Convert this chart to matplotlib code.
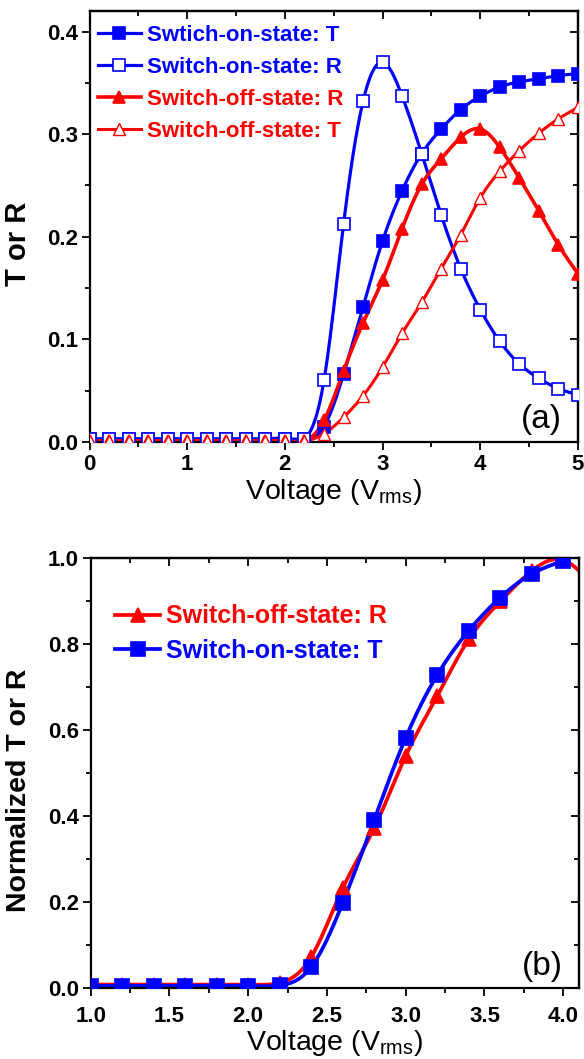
import numpy as np
import matplotlib
matplotlib.use("Agg")
import matplotlib.pyplot as plt
from matplotlib.ticker import MultipleLocator

plt.rcParams['font.family'] = ['Liberation Sans', 'DejaVu Sans']
plt.rcParams['mathtext.default'] = 'regular'

# ---------------- data: panel (a) ----------------
volt_a = [0.0, 0.2, 0.4, 0.6, 0.8, 1.0, 1.2, 1.4, 1.6, 1.8, 2.0, 2.2,
          2.4, 2.6, 2.8, 3.0, 3.2, 3.4, 3.6, 3.8, 4.0, 4.2, 4.4, 4.6, 4.8, 5.0]
on_T = [0.003] * 12 + [0.015, 0.066, 0.132, 0.196, 0.245, 0.281, 0.305, 0.324,
                       0.337, 0.346, 0.351, 0.354, 0.357, 0.359]
on_R = [0.003] * 12 + [0.060, 0.212, 0.332, 0.370, 0.337, 0.281, 0.221, 0.169,
                       0.129, 0.098, 0.076, 0.062, 0.052, 0.046]
off_R = [0.001] * 12 + [0.021, 0.069, 0.116, 0.158, 0.208, 0.251, 0.276, 0.297,
                        0.305, 0.287, 0.257, 0.225, 0.192, 0.164]
off_T = [0.001] * 12 + [0.008, 0.024, 0.045, 0.073, 0.106, 0.136, 0.169, 0.202,
                        0.238, 0.264, 0.284, 0.301, 0.315, 0.326]
labels_a = ["Swtich-on-state: T", "Switch-on-state: R",
            "Switch-off-state: R", "Switch-off-state: T"]

# ---------------- data: panel (b) ----------------
volt_b_R = [1.0, 1.2, 1.4, 1.6, 1.8, 2.0, 2.2, 2.4, 2.6, 2.8, 3.0, 3.2, 3.4,
            3.6, 3.8, 4.0, 4.2, 4.4]
norm_off_R = [0.008, 0.008, 0.008, 0.008, 0.008, 0.008, 0.012, 0.072, 0.232,
              0.372, 0.540, 0.679, 0.811, 0.899, 0.970, 0.995, 0.930, 0.843]
volt_b_T = [1.0, 1.2, 1.4, 1.6, 1.8, 2.0, 2.2, 2.4, 2.6, 2.8, 3.0, 3.2, 3.4,
            3.6, 3.8, 4.0]
norm_on_T = [0.005, 0.005, 0.005, 0.005, 0.005, 0.005, 0.006, 0.049, 0.198,
             0.391, 0.582, 0.728, 0.831, 0.908, 0.963, 0.993]
labels_b = ["Switch-off-state: R", "Switch-on-state: T"]

BLUE = '#0000FF'
RED = '#FF0000'
TICK_FS = 16


def natural_spline(x, y, n=600):
    x = np.asarray(x, float)
    y = np.asarray(y, float)
    k = len(x)
    h = np.diff(x)
    A = np.zeros((k, k))
    b = np.zeros(k)
    A[0, 0] = 1
    A[-1, -1] = 1
    for i in range(1, k - 1):
        A[i, i - 1] = h[i - 1]
        A[i, i] = 2 * (h[i - 1] + h[i])
        A[i, i + 1] = h[i]
        b[i] = 6 * ((y[i + 1] - y[i]) / h[i] - (y[i] - y[i - 1]) / h[i - 1])
    M = np.linalg.solve(A, b)
    xs = np.linspace(x[0], x[-1], n)
    idx = np.clip(np.searchsorted(x, xs) - 1, 0, k - 2)
    x0, x1 = x[idx], x[idx + 1]
    hh = x1 - x0
    t0 = x1 - xs
    t1 = xs - x0
    ys = (M[idx] * t0 ** 3 / (6 * hh) + M[idx + 1] * t1 ** 3 / (6 * hh)
          + (y[idx] / hh - M[idx] * hh / 6) * t0
          + (y[idx + 1] / hh - M[idx + 1] * hh / 6) * t1)
    return xs, ys


def series(ax, x, y, color, marker, filled, label, lw, ms, mew):
    xs, ys = natural_spline(x, y)
    ax.plot(xs, ys, color=color, lw=lw, zorder=2, clip_on=True)
    ax.plot(x, y, ls='none', marker=marker, ms=ms,
            mfc=color if filled else 'white', mec=color, mew=mew,
            zorder=3, clip_on=True)
    h, = ax.plot([], [], color=color, lw=lw, marker=marker, ms=ms,
                 mfc=color if filled else 'white', mec=color, mew=mew,
                 label=label)
    return h


def style_axes(ax, xmaj, xmin, ymaj, ymin, xpad):
    ax.xaxis.set_major_locator(MultipleLocator(xmaj))
    ax.xaxis.set_minor_locator(MultipleLocator(xmin))
    ax.yaxis.set_major_locator(MultipleLocator(ymaj))
    ax.yaxis.set_minor_locator(MultipleLocator(ymin))
    for s in ax.spines.values():
        s.set_linewidth(1.6)
    ax.tick_params(which='both', width=1.3, labelsize=TICK_FS)
    ax.tick_params(which='major', length=6)
    ax.tick_params(which='minor', length=3.5)
    ax.tick_params(axis='x', which='both', direction='out', top=False, pad=xpad)
    ax.tick_params(axis='y', which='both', direction='out', right=False, pad=2.5)
    for lab in ax.get_xticklabels() + ax.get_yticklabels():
        lab.set_fontweight('bold')
    # mirrored inward ticks on top / right
    sx = ax.secondary_xaxis('top')
    sy = ax.secondary_yaxis('right')
    sx.xaxis.set_major_locator(MultipleLocator(xmaj))
    sx.xaxis.set_minor_locator(MultipleLocator(xmin))
    sy.yaxis.set_major_locator(MultipleLocator(ymaj))
    sy.yaxis.set_minor_locator(MultipleLocator(ymin))
    sx.xaxis.set_ticklabels([])
    sy.yaxis.set_ticklabels([])
    for sa in (sx, sy):
        sa.tick_params(which='both', direction='in', width=1.3)
        sa.tick_params(which='major', length=6)
        sa.tick_params(which='minor', length=3.5)
        for s in sa.spines.values():
            s.set_linewidth(1.6)


fig = plt.figure(figsize=(5.84, 10.59), dpi=100)

# ---------------- panel (a) ----------------
ax1 = fig.add_axes([89.5 / 584, 1 - 442 / 1059, (578 - 89.5) / 584, (442 - 11) / 1059])
hs = []
hs.append(series(ax1, volt_a, on_T, BLUE, 's', True, labels_a[0], 2.3, 8.5, 1.2))
hs.append(series(ax1, volt_a, on_R, BLUE, 's', False, labels_a[1], 2.3, 8.5, 1.2))
hs.append(series(ax1, volt_a, off_R, RED, '^', True, labels_a[2], 2.6, 9, 1.2))
hs.append(series(ax1, volt_a, off_T, RED, '^', False, labels_a[3], 2.2, 9, 1.0))
ax1.set_xlim(0, 5)
ax1.set_ylim(0, 0.42)
style_axes(ax1, 1, 0.5, 0.1, 0.05, 3.0)
ax1.set_xlabel('Voltage (V$_{rms}$)', fontsize=20.5, labelpad=1)
ax1.set_ylabel('T or R', fontsize=21, fontweight='bold')
ax1.yaxis.set_label_coords(-0.118, 0.459)
ax1.text(0.926, 0.053, '(a)', transform=ax1.transAxes, fontsize=24,
         ha='center', va='center')
leg1 = ax1.legend(handles=hs, loc='upper left', bbox_to_anchor=(0.0164, 0.9675),
                  frameon=False, handlelength=1.96, handletextpad=0.27,
                  labelspacing=0.49, borderaxespad=0.0, borderpad=0.0,
                  prop={'weight': 'bold', 'size': 16})
for t, c in zip(leg1.get_texts(), [BLUE, BLUE, RED, RED]):
    t.set_color(c)

# ---------------- panel (b) ----------------
ax2 = fig.add_axes([90.7 / 584, 1 - 988 / 1059, (579 - 90.7) / 584, (988 - 558) / 1059])
hb = []
hb.append(series(ax2, volt_b_R, norm_off_R, RED, '^', True, labels_b[0], 2.7, 10, 1.2))
hb.append(series(ax2, volt_b_T, norm_on_T, BLUE, 's', True, labels_b[1], 2.7, 9.5, 1.2))
ax2.set_xlim(1.0, 4.1)
ax2.set_ylim(0, 1.0)
style_axes(ax2, 0.5, 0.25, 0.2, 0.1, 7.0)
ax2.set_xlabel('Voltage (V$_{rms}$)', fontsize=20.5, labelpad=1)
ax2.set_ylabel('Normalized T or R', fontsize=20.5, fontweight='bold')
ax2.yaxis.set_label_coords(-0.120, 0.46)
ax2.text(0.924, 0.049, '(b)', transform=ax2.transAxes, fontsize=24,
         ha='center', va='center')
leg2 = ax2.legend(handles=hb, loc='upper left', bbox_to_anchor=(0.05, 0.892),
                  frameon=False, handlelength=1.8, handletextpad=0.24,
                  labelspacing=0.41, borderaxespad=0.0, borderpad=0.0,
                  prop={'weight': 'bold', 'size': 18})
for t, c in zip(leg2.get_texts(), [RED, BLUE]):
    t.set_color(c)

fig.savefig('out.png', dpi=100)
